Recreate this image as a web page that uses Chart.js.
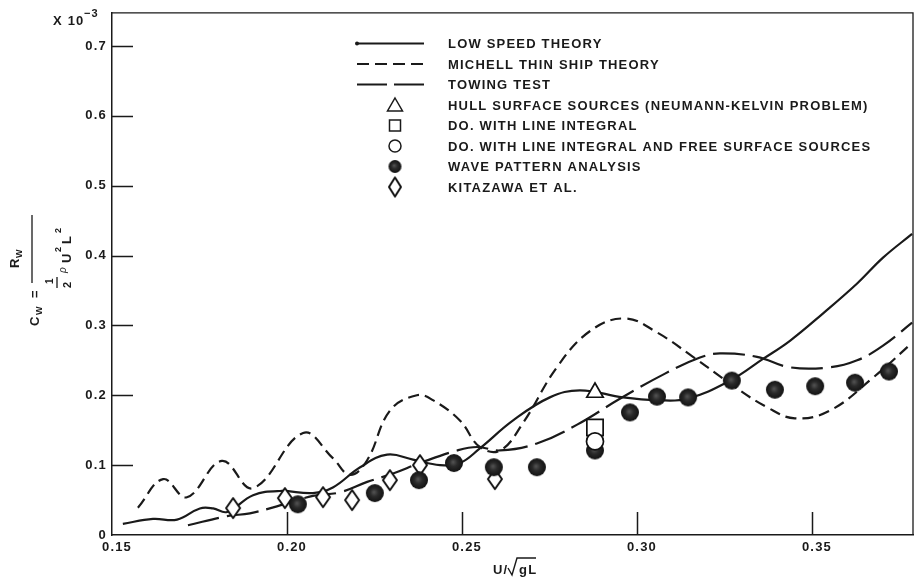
<!DOCTYPE html>
<html>
<head>
<meta charset="utf-8">
<script src="https://cdn.jsdelivr.net/npm/chart.js@4.4.0/dist/chart.umd.min.js"></script>
<style>
  html, body { margin: 0; padding: 0; background: #fff; }
  #wrap { width: 916px; height: 579px; position: relative; }
</style>
</head>
<body>
<div id="wrap"><canvas id="myChart"></canvas></div>
<script>
// wave resistance coefficient (x 10^-3) against Froude number
const lowSpeedX = [0.1531, 0.1617, 0.1686, 0.1751, 0.1789, 0.1829, 0.1903, 0.198, 0.2074, 0.2131, 0.2209, 0.2286, 0.236, 0.2437, 0.2494, 0.2551, 0.2646, 0.2751, 0.2837, 0.296, 0.3057, 0.3143, 0.3266, 0.336, 0.3437, 0.3531, 0.3629, 0.3703, 0.3786];
const lowSpeedY = [0.016, 0.023, 0.022, 0.038, 0.038, 0.033, 0.057, 0.063, 0.060, 0.068, 0.097, 0.115, 0.108, 0.100, 0.103, 0.124, 0.164, 0.197, 0.207, 0.197, 0.193, 0.195, 0.221, 0.252, 0.278, 0.317, 0.360, 0.397, 0.431];

const michellX = [0.1574, 0.1646, 0.1714, 0.1814, 0.1903, 0.2046, 0.2131, 0.218, 0.2229, 0.2294, 0.2371, 0.2417, 0.2494, 0.2551, 0.2609, 0.2674, 0.2771, 0.2866, 0.2966, 0.3057, 0.316, 0.3274, 0.3371, 0.3451, 0.3551, 0.3674, 0.3786];
const michellY = [0.039, 0.080, 0.054, 0.106, 0.067, 0.146, 0.110, 0.086, 0.107, 0.178, 0.200, 0.193, 0.164, 0.126, 0.121, 0.160, 0.240, 0.292, 0.310, 0.290, 0.255, 0.214, 0.183, 0.167, 0.178, 0.225, 0.275];

const towingX = [0.1717, 0.1829, 0.1894, 0.1971, 0.2074, 0.2151, 0.2229, 0.2303, 0.238, 0.2486, 0.2543, 0.2609, 0.2714, 0.2829, 0.2951, 0.308, 0.318, 0.3237, 0.3343, 0.3437, 0.3551, 0.3629, 0.3703, 0.3786];
const towingY = [0.014, 0.027, 0.031, 0.041, 0.056, 0.061, 0.076, 0.088, 0.103, 0.121, 0.126, 0.121, 0.131, 0.158, 0.195, 0.231, 0.254, 0.260, 0.255, 0.240, 0.240, 0.250, 0.271, 0.304];

const hullX = [0.288];
const hullY = [0.204];
const lineIntX = [0.288];
const lineIntY = [0.154];
const freeSurfX = [0.288];
const freeSurfY = [0.134];

const waveX = [0.2031, 0.2251, 0.2377, 0.2477, 0.2591, 0.2714, 0.288, 0.298, 0.3057, 0.3146, 0.3271, 0.3394, 0.3509, 0.3623, 0.372];
const waveY = [0.044, 0.060, 0.0785, 0.103, 0.097, 0.097, 0.121, 0.1755, 0.198, 0.197, 0.221, 0.208, 0.213, 0.218, 0.234];

const kitazawaX = [0.1846, 0.1994, 0.2103, 0.2186, 0.2294, 0.238, 0.2594];
const kitazawaY = [0.0385, 0.0528, 0.0542, 0.050, 0.0785, 0.100, 0.080];

const xTickValues = [0.15, 0.20, 0.25, 0.30, 0.35];
const xTickLabels = ['0.15', '0.20', '0.25', '0.30', '0.35'];
const yTickValues = [0, 0.1, 0.2, 0.3, 0.4, 0.5, 0.6, 0.7];
const yTickLabels = ['0', '0.1', '0.2', '0.3', '0.4', '0.5', '0.6', '0.7'];

const legendLabels = [
  'LOW SPEED THEORY',
  'MICHELL THIN SHIP THEORY',
  'TOWING TEST',
  'HULL SURFACE SOURCES (NEUMANN-KELVIN PROBLEM)',
  'DO. WITH LINE INTEGRAL',
  'DO. WITH LINE INTEGRAL AND FREE SURFACE SOURCES',
  'WAVE PATTERN ANALYSIS',
  'KITAZAWA ET AL.'
];

const INK = '#1a1a1a';
const FONT = 'Liberation Sans, Arial, Helvetica, sans-serif';

function pts(xs, ys) {
  return xs.map((x, i) => ({ x: x, y: ys[i] }));
}

function diamondImage(w, h) {
  const c = document.createElement('canvas');
  c.width = w + 4; c.height = h + 4;
  const g = c.getContext('2d');
  g.beginPath();
  g.moveTo(c.width / 2, 2);
  g.lineTo(c.width - 2, c.height / 2);
  g.lineTo(c.width / 2, c.height - 2);
  g.lineTo(2, c.height / 2);
  g.closePath();
  g.fillStyle = '#fff'; g.fill();
  g.strokeStyle = '#111'; g.lineWidth = 2; g.lineJoin = 'round'; g.stroke();
  return c;
}

function dotImage(r) {
  const c = document.createElement('canvas');
  c.width = c.height = Math.ceil(r * 2 + 2);
  const g = c.getContext('2d');
  const m = c.width / 2;
  const grad = g.createRadialGradient(m - 1, m - 1, 0, m, m, r);
  grad.addColorStop(0, '#555');
  grad.addColorStop(0.45, '#2a2a2a');
  grad.addColorStop(1, '#121212');
  g.beginPath(); g.arc(m, m, r, 0, Math.PI * 2);
  g.fillStyle = grad; g.fill();
  return c;
}

const diamondPt = diamondImage(14, 20);
const dotPt = dotImage(9);

function lineSet(label, xs, ys, dash) {
  return {
    label: label, data: pts(xs, ys), showLine: true, borderColor: INK, borderWidth: 2.2,
    borderDash: dash, tension: 0.4, pointRadius: 0, fill: false, order: 10
  };
}

function markSet(label, xs, ys, style, radius, order) {
  return {
    label: label, data: pts(xs, ys), showLine: false, pointStyle: style, pointRadius: radius,
    pointBackgroundColor: '#fff', pointBorderColor: '#111', pointBorderWidth: 1.7, order: order
  };
}

function vText(ctx, str, x, y, font) {
  ctx.save();
  ctx.translate(x, y);
  ctx.rotate(-Math.PI / 2);
  ctx.font = font;
  ctx.textAlign = 'left';
  ctx.textBaseline = 'alphabetic';
  ctx.fillText(str, 0, 0);
  ctx.restore();
}

const decorations = {
  id: 'decorations',
  beforeDraw(chart) {
    chart.ctx.letterSpacing = '1.2px';
  },
  afterDatasetsDraw(chart) {
    const ctx = chart.ctx;
    const a = chart.chartArea;
    const xs = chart.scales.x, ys = chart.scales.y;
    ctx.save();
    ctx.strokeStyle = INK;
    ctx.fillStyle = INK;

    // frame top and right
    ctx.lineWidth = 1.3;
    ctx.beginPath();
    ctx.moveTo(a.left, a.top); ctx.lineTo(a.right, a.top); ctx.lineTo(a.right, a.bottom);
    ctx.stroke();

    // inward tick marks
    ctx.lineWidth = 1.5;
    ctx.beginPath();
    yTickValues.slice(1).forEach(v => {
      const py = Math.round(ys.getPixelForValue(v)) + 0.5;
      ctx.moveTo(a.left, py); ctx.lineTo(a.left + 21, py);
    });
    xTickValues.slice(1).forEach(v => {
      const px = Math.round(xs.getPixelForValue(v)) + 0.5;
      ctx.moveTo(px, a.bottom); ctx.lineTo(px, a.bottom - 23);
    });
    ctx.stroke();

    // scale factor
    ctx.textAlign = 'left';
    ctx.textBaseline = 'alphabetic';
    ctx.font = 'bold 13px ' + FONT;
    ctx.fillText('X 10', 53, 25);
    ctx.font = 'bold 11px ' + FONT;
    ctx.fillText('\u22123', 84, 17);

    // x title: U/ sqrt(gL)
    ctx.font = 'bold 13px ' + FONT;
    ctx.fillText('U/', 493, 574);
    ctx.fillText('gL', 519, 574);
    ctx.lineWidth = 1.4;
    ctx.beginPath();
    ctx.moveTo(508, 568); ctx.lineTo(512, 575); ctx.lineTo(517, 558); ctx.lineTo(536, 558);
    ctx.stroke();

    // y title: C_W = R_W / (1/2 rho U^2 L^2)
    const b13 = 'bold 13px ' + FONT, b9 = 'bold 9px ' + FONT;
    vText(ctx, 'C', 39, 326, b13);
    vText(ctx, 'W', 42, 315, b9);
    vText(ctx, '=', 39, 298, b13);
    vText(ctx, 'R', 19, 268, b13);
    vText(ctx, 'W', 22, 258, b9);
    vText(ctx, '1', 53, 284, 'bold 10px ' + FONT);
    vText(ctx, '2', 71, 288, 'bold 11px ' + FONT);
    vText(ctx, '\u03c1', 66, 273, 'italic 10px ' + FONT);
    vText(ctx, 'U', 71, 263, b13);
    vText(ctx, '2', 61, 252, b9);
    vText(ctx, 'L', 71, 244, b13);
    vText(ctx, '2', 61, 233, b9);
    ctx.lineWidth = 1.3;
    ctx.beginPath();
    ctx.moveTo(32, 215); ctx.lineTo(32, 283);
    ctx.moveTo(57, 277); ctx.lineTo(57, 288);
    ctx.stroke();

    // legend
    const lx0 = 357, lx1 = 424, mx = 395, tx = 448;
    const rowY = i => 43.5 + 20.5 * i;
    ctx.font = 'bold 13px ' + FONT;
    legendLabels.forEach((lab, i) => {
      ctx.fillText(lab, tx, rowY(i) + 4.7);
    });
    ctx.lineWidth = 2;
    // solid
    ctx.beginPath(); ctx.setLineDash([]);
    ctx.moveTo(lx0, rowY(0)); ctx.lineTo(lx1, rowY(0)); ctx.stroke();
    ctx.beginPath(); ctx.arc(lx0, rowY(0), 2, 0, Math.PI * 2); ctx.fill();
    // short dashes
    ctx.beginPath(); ctx.setLineDash([12, 6]);
    ctx.moveTo(lx0, rowY(1)); ctx.lineTo(lx1, rowY(1)); ctx.stroke();
    // long dashes
    ctx.beginPath(); ctx.setLineDash([30, 7]);
    ctx.moveTo(lx0, rowY(2)); ctx.lineTo(lx1, rowY(2)); ctx.stroke();
    ctx.setLineDash([]);
    ctx.lineWidth = 1.5;
    ctx.fillStyle = '#fff';
    // triangle
    let y = rowY(3);
    ctx.beginPath();
    ctx.moveTo(mx, y - 7); ctx.lineTo(mx + 7.5, y + 6); ctx.lineTo(mx - 7.5, y + 6); ctx.closePath();
    ctx.fill(); ctx.stroke();
    // square
    y = rowY(4);
    ctx.beginPath(); ctx.rect(mx - 5.5, y - 5.5, 11, 11); ctx.fill(); ctx.stroke();
    // open circle
    y = rowY(5);
    ctx.beginPath(); ctx.arc(mx, y, 6, 0, Math.PI * 2); ctx.fill(); ctx.stroke();
    // filled circle
    y = rowY(6);
    const dot = dotImage(6.5);
    ctx.drawImage(dot, mx - dot.width / 2, y - dot.height / 2);
    // diamond
    y = rowY(7);
    const d = diamondImage(12, 19);
    ctx.drawImage(d, mx - d.width / 2, y - d.height / 2);
    ctx.restore();
  }
};

const ctx = document.getElementById('myChart').getContext('2d');

new Chart(ctx, {
  type: 'line',
  data: {
    datasets: [
      lineSet(legendLabels[0], lowSpeedX, lowSpeedY, []),
      lineSet(legendLabels[1], michellX, michellY, [11, 6]),
      lineSet(legendLabels[2], towingX, towingY, [32, 8]),
      markSet(legendLabels[3], hullX, hullY, 'triangle', 9.5, 2),
      markSet(legendLabels[4], lineIntX, lineIntY, 'rect', 11.5, 4),
      markSet(legendLabels[5], freeSurfX, freeSurfY, 'circle', 8.5, 3),
      markSet(legendLabels[6], waveX, waveY, dotPt, 9, 5),
      markSet(legendLabels[7], kitazawaX, kitazawaY, diamondPt, 10, 6)
    ]
  },
  options: {
    responsive: true,
    maintainAspectRatio: false,
    animation: false,
    devicePixelRatio: 1,
    layout: { autoPadding: false, padding: { left: 0, right: 3, top: 11, bottom: 0 } },
    plugins: { legend: { display: false }, tooltip: { enabled: false } },
    scales: {
      x: {
        type: 'linear', min: 0.15, max: 0.37886,
        grid: { display: false, drawTicks: false },
        border: { display: true, color: INK, width: 1.5 },
        afterBuildTicks: s => { s.ticks = xTickValues.map(v => ({ value: v })); },
        afterFit: s => { s.height = 44; },
        ticks: {
          color: INK, padding: 5, labelOffset: 5, maxRotation: 0,
          font: { family: FONT, size: 13, weight: 'bold' },
          callback: (v, i) => xTickLabels[i]
        }
      },
      y: {
        type: 'linear', min: 0, max: 0.7475,
        grid: { display: false, drawTicks: false },
        border: { display: true, color: INK, width: 1.5 },
        afterBuildTicks: s => { s.ticks = yTickValues.map(v => ({ value: v })); },
        afterFit: s => { s.width = 112; },
        ticks: {
          color: INK, padding: 5,
          font: { family: FONT, size: 13, weight: 'bold' },
          callback: (v, i) => yTickLabels[i]
        }
      }
    }
  },
  plugins: [decorations]
});
</script>
</body>
</html>
